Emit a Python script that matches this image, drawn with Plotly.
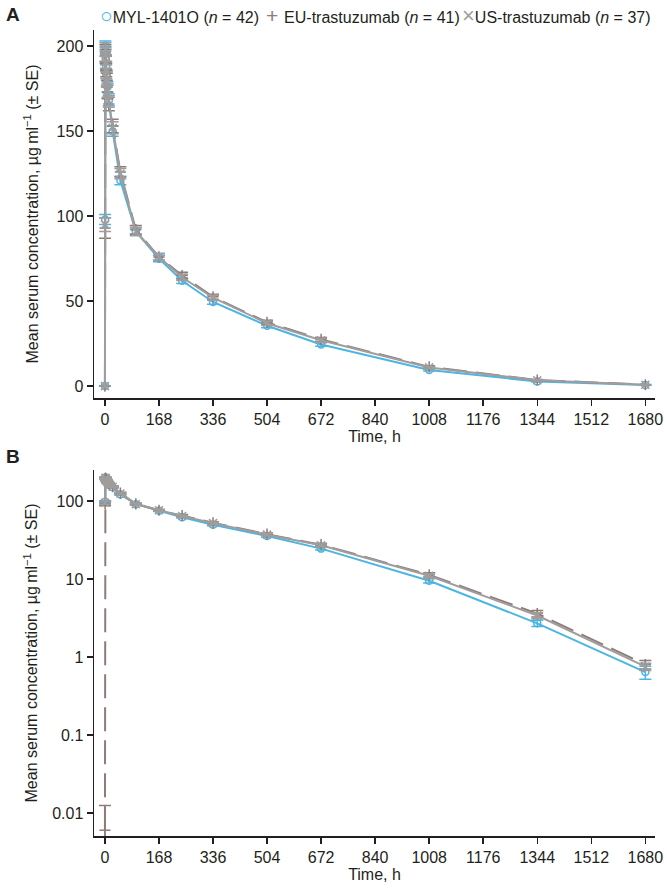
import plotly.graph_objects as go

# ---------------- data ----------------
time_h = [0, 0.5, 1.5, 2, 3, 4, 6, 8, 12, 24, 48, 96, 168, 240, 336, 504, 672, 1008, 1344, 1680]

myl_mean = [0, 98, 200, 197, 192, 188, 183, 176, 168, 150, 121, 91, 75, 62, 49.5, 35.5, 24.5, 9.5, 2.7, 0.64]
myl_se   = [0, 3, 3, 3, 3, 3, 3, 3, 3, 3, 2.5, 2, 1.8, 1.6, 1.4, 1.2, 1.0, 0.6, 0.25, 0.12]

eu_mean = [0.006, 93, 196, 194, 190, 186, 180, 173, 166, 153, 126, 92, 76, 65, 52.5, 37.5, 27.5, 11.3, 3.6, 0.8]
eu_se   = [0.0065, 6, 5, 4, 4, 4, 4, 4, 4, 4, 3, 2.5, 2, 2, 1.6, 1.3, 1.1, 0.7, 0.35, 0.1]

us_mean = [0, 95, 198, 195, 191, 185, 181, 174, 168, 152, 125, 91, 76, 64, 52, 37, 27, 11, 3.4, 0.75]
us_se   = [0, 4, 4, 4, 4, 4, 4, 4, 4, 3.5, 3, 2.5, 2, 1.8, 1.5, 1.2, 1.0, 0.6, 0.3, 0.08]

x_ticks = [0, 168, 336, 504, 672, 840, 1008, 1176, 1344, 1512, 1680]
yA_ticks = [0, 50, 100, 150, 200]
yB_ticks = [0.01, 0.1, 1, 10, 100]
yB_labels = ["0.01", "0.1", "1", "10", "100"]

names = ["MYL-1401O (<i>n</i> = 42)", "EU-trastuzumab (<i>n</i> = 41)", "US-trastuzumab (<i>n</i> = 37)"]
legend_glyphs = ["○", "+ ", "×"]

BLUE = "#4cb5e2"
EU_C = "#8e7c79"
US_C = "#a19d9d"
TXT = "#231f20"
FONT = "Liberation Sans, Arial, sans-serif"
FS = 16

series = [
    (myl_mean, myl_se, BLUE, "solid", "circle-open", 7),
    (eu_mean, eu_se, EU_C, "24px,9px", "cross-thin-open", 8),
    (us_mean, us_se, US_C, "solid", "x-thin-open", 8),
]

W, H = 667, 892
ML, MR, MT, MB = 94, W - 655, 30, H - 836
plot_w = W - ML - MR
plot_h = H - MT - MB


def px_to_paper(sx, sy):
    return (sx - ML) / plot_w, 1 - (sy - MT) / plot_h


def ydom(top_s, bot_s):
    return [px_to_paper(0, bot_s)[1], px_to_paper(0, top_s)[1]]


fig = go.Figure()

for panel, (xa, ya) in enumerate([("x", "y"), ("x2", "y2")]):
    for i, (m, se, col, dash, sym, ms) in enumerate(series):
        if panel == 1:
            # non-positive values cannot be shown on the log scale
            y_vals = [v if v > 0 else None for v in m]
        else:
            y_vals = m
        fig.add_trace(go.Scatter(
            x=time_h, y=y_vals, xaxis=xa, yaxis=ya,
            mode="lines+markers",
            line=dict(color=col, width=2, dash=dash),
            marker=dict(symbol=sym, size=ms, color=col, line=dict(color=col, width=1.5)),
            error_y=dict(type="data", array=se, visible=True, color=col, thickness=1.5, width=6),
            showlegend=False, name=names[i], cliponaxis=False, connectgaps=False,
        ))

axis_common = dict(
    showline=True, linecolor=TXT, linewidth=1.5, ticks="outside", ticklen=6, tickwidth=1.5,
    tickcolor=TXT, showgrid=False, zeroline=False, mirror=False,
    tickfont=dict(family=FONT, size=FS, color=TXT),
)
tfont = dict(family=FONT, size=FS, color=TXT)
ytitle = "Mean serum concentration, µg\u2009ml<sup>−1</sup> (± SE)"

annotations = []
for letter, sy in (("A", 14), ("B", 457)):
    ax, ay = px_to_paper(13, sy)
    annotations.append(dict(text=f"<b>{letter}</b>", x=ax, y=ay, xref="paper", yref="paper",
                            showarrow=False, xanchor="center", yanchor="middle",
                            font=dict(family=FONT, size=19, color=TXT)))
legend_x = [98, 264, 460]
glyph_sizes = [21, 21, 22]
for i, (m, se, col, dash, sym, ms) in enumerate(series):
    ax, ay = px_to_paper(legend_x[i], 16)
    annotations.append(dict(
        text=f'<span style="color:{col};font-size:{glyph_sizes[i]}px">{legend_glyphs[i]}</span>{names[i]}',
        x=ax, y=ay, xref="paper", yref="paper", showarrow=False,
        xanchor="left", yanchor="middle", font=dict(family=FONT, size=FS, color=TXT)))

fig.update_layout(
    width=W, height=H,
    margin=dict(l=ML, r=MR, t=MT, b=MB, autoexpand=False),
    paper_bgcolor="white", plot_bgcolor="white",
    font=dict(family=FONT, size=FS, color=TXT),
    showlegend=False,
    hovermode=False,
    xaxis=dict(domain=[0, 1], anchor="y", range=[-34, 1710], tickvals=x_ticks,
               title=dict(text="Time, h", font=tfont, standoff=3), **axis_common),
    yaxis=dict(domain=ydom(30, 398), anchor="x", range=[-7, 209.5], tickvals=yA_ticks,
               title=dict(text=ytitle, font=tfont, standoff=14), **axis_common),
    xaxis2=dict(domain=[0, 1], anchor="y2", range=[-34, 1710], tickvals=x_ticks,
                title=dict(text="Time, h", font=tfont, standoff=3), **axis_common),
    yaxis2=dict(domain=ydom(470, 836), anchor="x2", type="log", range=[-2.295, 2.397],
                tickvals=yB_ticks, ticktext=yB_labels,
                title=dict(text=ytitle, font=tfont, standoff=10), **axis_common),
    annotations=annotations,
)

fig.write_html(
    "out.html",
    config={"displayModeBar": False, "staticPlot": True},
    post_script=(
        "document.documentElement.style.margin='0';"
        "document.body.style.margin='0';"
        "document.documentElement.style.overflow='hidden';"
        "document.body.style.overflow='hidden';"
    ),
)
